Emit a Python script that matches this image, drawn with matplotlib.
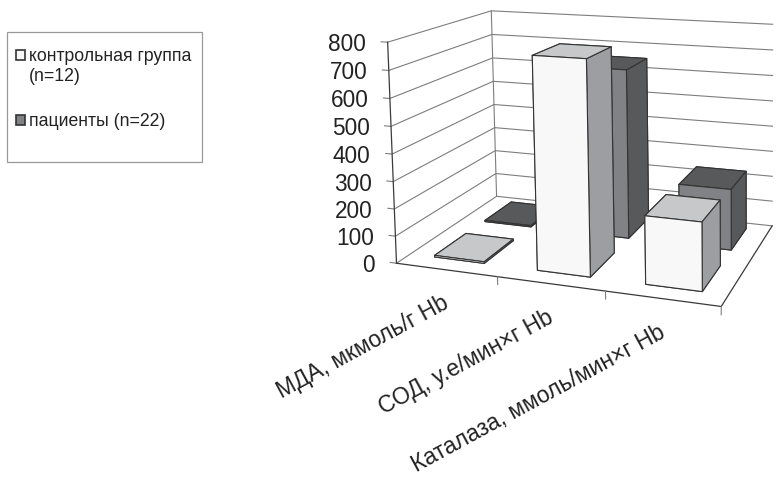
import numpy as np
import matplotlib
matplotlib.use("Agg")
import matplotlib.pyplot as plt
from matplotlib.legend_handler import HandlerPatch
from matplotlib.patches import Patch, Rectangle
from mpl_toolkits.mplot3d import Axes3D, proj3d

plt.rcParams['font.family'] = ['Liberation Sans', 'DejaVu Sans']

# ---- data ----
categories = ["МДА, мкмоль/г Hb", "СОД, у.е/мин×г Hb", "Каталаза, ммоль/мин×г Hb"]
series_names = ["контрольная группа\n(n=12)", "пациенты (n=22)"]
control = [6, 765, 240]
patients = [5, 650, 230]
z_ticks = [0, 100, 200, 300, 400, 500, 600, 700, 800]

# ---- camera: frame corners of the 3-D box (cat, depth, value) -> image pixels ----
W, H = 777, 480
frame_world = [(0, 0, 0), (0, 0, 800), (0, 1, 0), (0, 1, 800), (1, 0, 0), (2, 0, 0),
               (3, 0, 0), (3, 1, 0), (3, 1, 800), (0, 0, 400), (0, 1, 400)]
frame_px = [(396.3, 262.5), (386.9, 42.7), (496, 196), (492.3, 10), (497, 276.2), (606, 290.8),
            (722, 306), (772, 227), (772, 23.8), (392.3, 155.5), (494.3, 105)]


def fit_camera(world, px):
    rows = []
    for (x, y, z), (u, v) in zip(world, px):
        v = H - v
        p = [x, y, z / 800, 1]
        rows.append(p + [0] * 4 + [-u * c for c in p])
        rows.append([0] * 4 + p + [-v * c for c in p])
    P = np.linalg.svd(np.array(rows))[2][-1].reshape(3, 4)
    P = P @ np.diag([1, 1, 1 / 800, 1])
    return P / P[2, 3]


CAMERA = fit_camera(frame_world, frame_px)


class CameraAxes(Axes3D):
    """3-D axes whose projection is the fitted camera."""

    def apply_aspect(self, position=None):
        pass

    def get_proj(self):
        vl = self.viewLim
        to_view = np.array([[(vl.x1 - vl.x0) / W, 0, vl.x0],
                            [0, (vl.y1 - vl.y0) / H, vl.y0],
                            [0, 0, 1]])
        P = to_view @ CAMERA
        return np.vstack([P[0], P[1], [0, 0, 0, -1], P[2]])


fig = plt.figure(figsize=(W / 100, H / 100), dpi=100, facecolor='white')
ax = CameraAxes(fig, [0, 0, 1, 1], computed_zorder=False)
fig.add_axes(ax)
ax.set_axis_off()
ax.set_xlim(0, 3)
ax.set_ylim(0, 1)
ax.set_zlim(0, 800)
M = ax.get_proj()

# ---- walls and floor ----
GRID = '#7d7d7d'
EDGE = '#3a3a3a'
for z in z_ticks[1:]:
    ax.plot([-0.065, 0, 0, 3], [0, 0, 1, 1], [z, z, z, z], color=GRID, lw=0.8, zorder=1)
ax.plot([-0.065, 0, 0, 3], [0, 0, 1, 1], [0, 0, 0, 0], color=GRID, lw=0.8, zorder=1)
ax.plot([0, 0], [1, 1], [0, 800], color=GRID, lw=0.8, zorder=1)
ax.plot([0, 3, 3], [0, 0, 1], [0, 0, 0], color=EDGE, lw=0.9, zorder=1)
ax.plot([0, 0], [0, 0], [0, 800], color=EDGE, lw=0.9, zorder=1)
for c in range(1, 4):
    ax.plot([c, c], [0, 0], [0, -28], color=GRID, lw=0.8, zorder=1)

# ---- bars ----
faces_ctrl = ['#c6c8ca', '#c6c8ca', '#f8f8f8', '#f8f8f8', '#9c9ea1', '#9c9ea1']
faces_pat = ['#58595b', '#58595b', '#808285', '#808285', '#58595b', '#58595b']
# order of faces in bar3d: bottom, top, front(-y), back(+y), left(-x), right(+x)
rows = [(patients, 0.62, 0.30, faces_pat), (control, 0.12, 0.30, faces_ctrl)]
bar_inset = [0.25, 0.27, 0.275]
zo = 2
for values, y0, dy, faces in rows:
    for i, v in enumerate(values):
        ax.bar3d(i + bar_inset[i], y0, 0, 0.5, dy, v, color=faces, edgecolor='#333333',
                 linewidth=0.8, shade=False, zorder=zo)
        zo += 1

# ---- tick labels ----
for z in z_ticks:
    x2, y2, _ = proj3d.proj_transform(0, 0, z, M)
    ax.annotate(str(z), (x2, y2), xytext=(-21.5, 0), textcoords='offset pixels',
                ha='right', va='center_baseline', fontsize=16.3, color='#222222')
for i, label in enumerate(categories):
    x2, y2, _ = proj3d.proj_transform(i + 0.5, 0, 0, M)
    ax.annotate(label, (x2, y2), xytext=(1, -32), textcoords='offset pixels', rotation=28.5,
                rotation_mode='anchor', ha='right', va='center', fontsize=16.5, color='#222222')


# ---- legend ----
def raised_box(shift):
    def make(legend, orig_handle, xdescent, ydescent, width, height, fontsize):
        return Rectangle((-xdescent, -ydescent + shift), width, height)
    return HandlerPatch(patch_func=make)


fig.add_artist(Rectangle((6.5 / W, 1 - 162 / H), 196 / W, 130 / H, transform=fig.transFigure,
                         facecolor='white', edgecolor='#999999', lw=0.9))
handles = [Patch(facecolor='#f8f8f8', edgecolor='#333333', lw=1.2),
           Patch(facecolor='#808285', edgecolor='#333333', lw=1.2)]
fig.legend(handles, series_names, loc='upper left', bbox_to_anchor=(10.5 / W, 1 - 43 / H),
           frameon=False, fontsize=12.7, handlelength=0.55, handleheight=0.55, handletextpad=0.2,
           labelspacing=1.6, borderpad=0.3, borderaxespad=0, labelcolor='#222222',
           handler_map={handles[0]: raised_box(8.5), handles[1]: raised_box(0)})

fig.savefig('out.png', dpi=100)
